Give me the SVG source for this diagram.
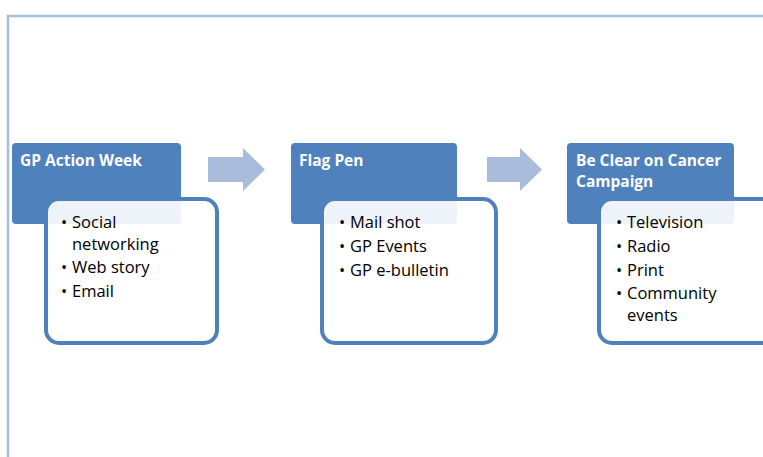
<svg xmlns="http://www.w3.org/2000/svg" width="763" height="457" viewBox="0 0 763 457">
<style>
.hdr{fill:#4f81bd}
.box{fill:#ffffff;fill-opacity:0.9;stroke:#4f81bd;stroke-width:4}
.ht{font-family:"Open Sans","Liberation Sans",sans-serif;font-weight:bold;font-size:15.5px;fill:#ffffff}
.bt{font-family:"Open Sans","Liberation Sans",sans-serif;font-size:16.5px;fill:#000000}
.arr{fill:#a9bcdc}
.frame{fill:none;stroke:#a4bfe2;stroke-width:2.5}
</style>
<rect width="763" height="457" fill="#ffffff"/>
<path class="frame" d="M8,457 V16 H763"/>
<g id="connectors">
<polygon class="arr" points="208,157 243,157 243,148 265,169.5 243,191 243,182 208,182"/>
<polygon class="arr" points="487,157 520,157 520,148 542,169.5 520,191 520,182 487,182"/>
</g>
<g id="node-gp-action-week">
<rect class="hdr" x="12" y="143" width="169" height="81" rx="4"/>
<text class="ht" x="20" y="166">GP Action Week</text>
<rect class="box" x="46" y="199" width="171" height="144" rx="13"/>
<text class="bt"><tspan x="61" y="228">•</tspan><tspan x="72" y="228">Social</tspan></text>
<text class="bt" x="72" y="250">networking</text>
<text class="bt"><tspan x="61" y="273">•</tspan><tspan x="72" y="273">Web story</tspan><tspan x="61" y="297">•</tspan><tspan x="72" y="297">Email</tspan></text>
</g>
<g id="node-flag-pen">
<rect class="hdr" x="291" y="143" width="166" height="81" rx="4"/>
<text class="ht" x="299" y="166">Flag Pen</text>
<rect class="box" x="322" y="199" width="174" height="144" rx="13"/>
<text class="bt"><tspan x="339" y="228">•</tspan><tspan x="350" y="228">Mail shot</tspan><tspan x="339" y="252">•</tspan><tspan x="350" y="252">GP Events</tspan><tspan x="339" y="276">•</tspan><tspan x="350" y="276">GP e-bulletin</tspan></text>
</g>
<g id="node-be-clear">
<rect class="hdr" x="567" y="143" width="167" height="81" rx="4"/>
<text class="ht"><tspan x="576" y="166">Be Clear on Cancer</tspan><tspan x="576" y="187">Campaign</tspan></text>
<rect class="box" x="599" y="199" width="176" height="144" rx="13"/>
<text class="bt"><tspan x="616" y="228">•</tspan><tspan x="627" y="228">Television</tspan><tspan x="616" y="252">•</tspan><tspan x="627" y="252">Radio</tspan><tspan x="616" y="276">•</tspan><tspan x="627" y="276">Print</tspan><tspan x="616" y="299">•</tspan><tspan x="627" y="299">Community</tspan></text>
<text class="bt" x="627" y="321">events</text>
</g>
</svg>
